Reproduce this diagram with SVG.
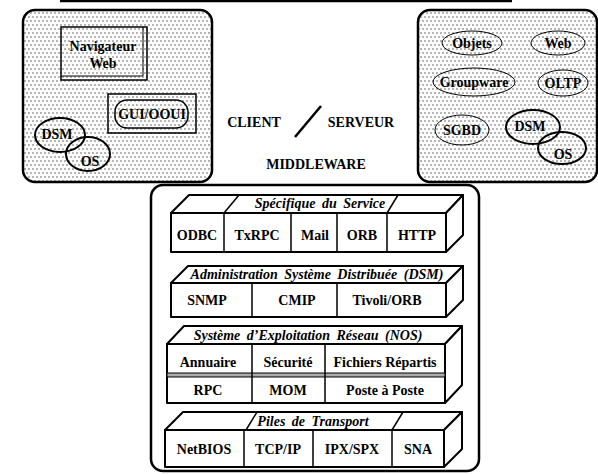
<svg xmlns="http://www.w3.org/2000/svg" width="598" height="474" viewBox="0 0 598 474">
<defs>
<pattern id="dots" width="8" height="8" patternUnits="userSpaceOnUse">
<rect x="0" y="0" width="8" height="8" fill="#fff"/>
<circle cx="1" cy="1" r="0.7" fill="#333"/><circle cx="5" cy="1" r="0.7" fill="#333"/>
<circle cx="3" cy="5" r="0.7" fill="#333"/><circle cx="7" cy="5" r="0.7" fill="#333"/>
</pattern>
</defs>
<style>
text{font-family:"Liberation Serif","DejaVu Serif",serif;font-weight:bold;font-size:14px;text-anchor:middle;fill:#000}
.it{font-style:italic;word-spacing:3px}
.frame{fill:url(#dots);stroke:#000;stroke-width:2.5}
.thin{fill:none;stroke:#000;stroke-width:1}
.thick{fill:none;stroke:#000;stroke-width:2}
.face{fill:#fff;stroke:#000;stroke-width:2;stroke-linejoin:round}
.ln{stroke:#000;stroke-width:1.5;fill:none}
</style>
<rect width="598" height="474" fill="#fff"/>
<g id="connectors">
<line x1="60" y1="1" x2="512" y2="1" stroke="#000" stroke-width="2.5"/>
<line x1="295" y1="137" x2="321" y2="106" stroke="#000" stroke-width="2.5"/>
</g>
<g id="client">
<rect class="frame" x="23" y="10" width="189" height="172" rx="12"/>
<rect x="61" y="27" width="86" height="53" fill="none" stroke="#000" stroke-width="1.5"/>
<polyline class="thin" points="143,27 143,76 61,76"/>
<text x="103" y="51">Navigateur</text>
<text x="103" y="68">Web</text>
<rect x="108" y="94" width="88" height="39" fill="none" stroke="#000" stroke-width="1.5"/>
<rect x="115" y="100" width="73" height="28" rx="12" fill="none" stroke="#000" stroke-width="1.5"/>
<text x="152" y="119">GUI/OOUI</text>
<ellipse class="thick" cx="60" cy="135" rx="25" ry="17"/>
<ellipse class="thick" cx="88" cy="154" rx="22" ry="17"/>
<text x="57" y="139">DSM</text>
<text x="90" y="166">OS</text>
</g>
<g id="serveur">
<rect class="frame" x="418" y="10" width="179" height="172" rx="12"/>
<ellipse class="thin" cx="472" cy="43" rx="30" ry="12"/><text x="472" y="48">Objets</text>
<ellipse class="thin" cx="558" cy="43" rx="27" ry="12"/><text x="558" y="48">Web</text>
<ellipse class="thin" cx="474" cy="82" rx="41" ry="14"/><text x="474" y="87">Groupware</text>
<ellipse class="thin" cx="563" cy="83" rx="25" ry="13"/><text x="563" y="88">OLTP</text>
<ellipse class="thin" cx="462" cy="130" rx="27" ry="15"/><text x="462" y="135">SGBD</text>
<ellipse class="thick" cx="533" cy="127" rx="27" ry="17"/>
<ellipse class="thick" cx="562" cy="148" rx="24" ry="16"/>
<text x="530" y="131">DSM</text>
<text x="563" y="159">OS</text>
</g>
<g id="labels">
<text x="254" y="127">CLIENT</text>
<text x="361" y="127">SERVEUR</text>
<text x="316" y="169">MIDDLEWARE</text>
</g>
<g id="middleware">
<rect x="151" y="185" width="328" height="286" rx="12" fill="#fff" stroke="#000" stroke-width="2.5"/>
</g>
<g id="service">
<polygon class="face" points="171,213 189,195 463,195 446,213"/>
<polygon class="face" points="446,213 463,195 463,235 446,252"/>
<rect class="face" x="171" y="213" width="275" height="39"/>
<line class="ln" x1="224" y1="213" x2="239" y2="195"/>
<line class="ln" x1="387" y1="213" x2="398" y2="195"/>
<line class="ln" x1="224" y1="213" x2="224" y2="252"/>
<line class="ln" x1="291" y1="213" x2="291" y2="252"/>
<line class="ln" x1="337" y1="213" x2="337" y2="252"/>
<line class="ln" x1="387" y1="213" x2="387" y2="252"/>
<text class="it" x="320" y="208">Spécifique du Service</text>
<text x="197" y="240">ODBC</text>
<text x="257" y="240">TxRPC</text>
<text x="315" y="240">Mail</text>
<text x="362" y="240">ORB</text>
<text x="417" y="240">HTTP</text>
</g>
<g id="dsm">
<polygon class="face" points="171,283 188,266 463,266 446,283"/>
<polygon class="face" points="446,283 463,266 463,300 446,317"/>
<rect class="face" x="171" y="283" width="275" height="34"/>
<line class="ln" x1="252" y1="283" x2="252" y2="317"/>
<line class="ln" x1="337" y1="283" x2="337" y2="317"/>
<text class="it" x="317" y="279">Administration Système Distribuée (DSM)</text>
<text x="207" y="305">SNMP</text>
<text x="297" y="305">CMIP</text>
<text x="387" y="305">Tivoli/ORB</text>
</g>
<g id="nos">
<polygon class="face" points="167,344 184,326 462,326 445,344"/>
<polygon class="face" points="445,344 462,326 462,385 445,403"/>
<rect class="face" x="167" y="344" width="278" height="59"/>
<rect x="167" y="373" width="278" height="4" fill="#aaa" stroke="#000" stroke-width="1"/>
<line class="ln" x1="252" y1="344" x2="252" y2="403"/>
<line class="ln" x1="325" y1="344" x2="325" y2="403"/>
<text class="it" x="308" y="340">Système d’Exploitation Réseau (NOS)</text>
<text x="208" y="367">Annuaire</text>
<text x="288" y="367">Sécurité</text>
<text x="385" y="367">Fichiers Répartis</text>
<text x="208" y="395">RPC</text>
<text x="288" y="395">MOM</text>
<text x="385" y="395">Poste à Poste</text>
</g>
<g id="transport">
<polygon class="face" points="165,430 183,412 462,412 444,430"/>
<polygon class="face" points="444,430 462,412 462,449 444,467"/>
<rect class="face" x="165" y="430" width="279" height="37"/>
<line class="ln" x1="246" y1="430" x2="257" y2="412"/>
<line class="ln" x1="392" y1="430" x2="403" y2="412"/>
<line class="ln" x1="244" y1="430" x2="244" y2="467"/>
<line class="ln" x1="313" y1="430" x2="313" y2="467"/>
<line class="ln" x1="392" y1="430" x2="392" y2="467"/>
<text class="it" x="313" y="426">Piles de Transport</text>
<text x="204" y="454">NetBIOS</text>
<text x="278" y="454">TCP/IP</text>
<text x="352" y="454">IPX/SPX</text>
<text x="418" y="454">SNA</text>
</g>
</svg>
